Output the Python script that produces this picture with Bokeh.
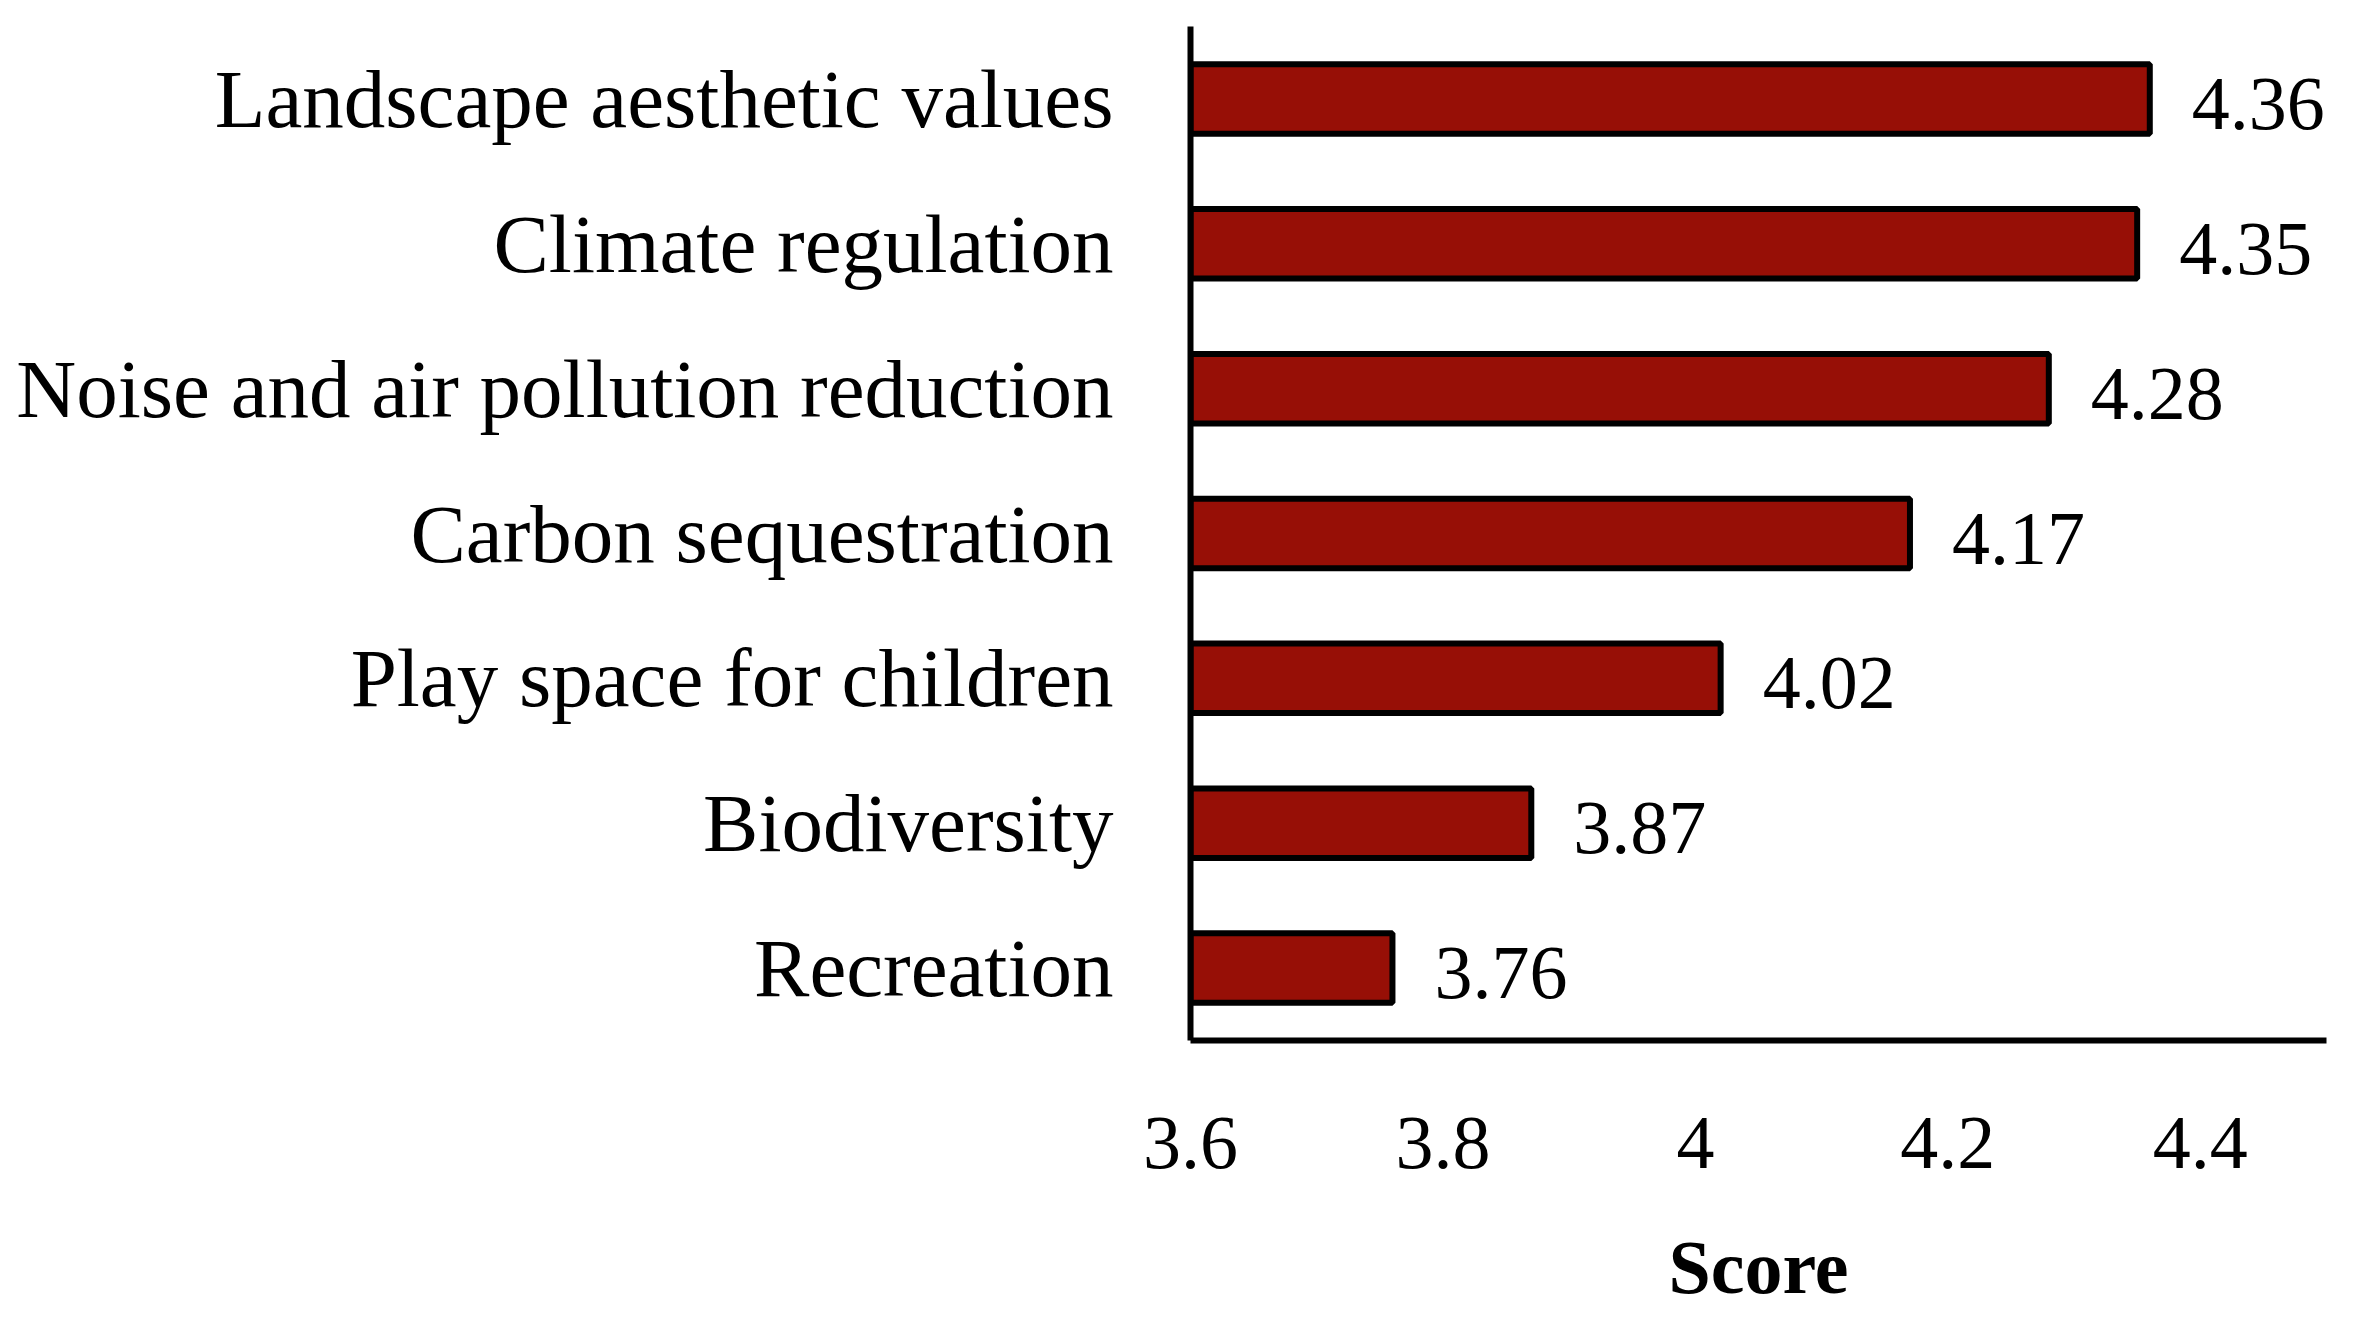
from bokeh.plotting import figure
from bokeh.models import FactorRange, Range1d, FixedTicker, NumeralTickFormatter, ColumnDataSource
from bokeh.embed import file_html
from bokeh.resources import INLINE
from bokeh.core.properties import value

categories = ["Landscape aesthetic values", "Climate regulation", "Noise and air pollution reduction",
              "Carbon sequestration", "Play space for children", "Biodiversity", "Recreation"]
scores = [4.36, 4.35, 4.28, 4.17, 4.02, 3.87, 3.76]
x_ticks = [3.6, 3.8, 4.0, 4.2, 4.4]
x_start, x_end = 3.6, 4.5

FONT = "Liberation Serif"
FS = "76px"
FS_CAT = "83px"

src = ColumnDataSource(dict(cat=categories, score=scores,
                            label=[f"{v:.2f}" for v in scores],
                            base=[x_start] * len(scores)))

p = figure(width=2358, height=1311, output_backend="svg", toolbar_location=None,
           y_range=FactorRange(factors=categories[::-1]),
           x_range=Range1d(x_start, x_end),
           min_border_left=1190, min_border_right=32, min_border_top=26, min_border_bottom=257)

p.hbar(y="cat", left="base", right="score", height=0.48, source=src,
       fill_color="#970F06", line_color="black", line_width=6)
p.text(x="score", y="cat", text="label", source=src, x_offset=42, y_offset=5,
       text_baseline="middle", text_align="left",
       text_font=value(FONT), text_font_size=FS, text_color="black")

p.xgrid.visible = False
p.ygrid.visible = False
p.outline_line_color = None
p.background_fill_color = "white"
p.border_fill_color = "white"

xa = p.xaxis[0]
xa.ticker = FixedTicker(ticks=x_ticks)
xa.formatter = NumeralTickFormatter(format="0.[0]")
xa.axis_line_width = 6
xa.axis_line_color = "black"
xa.major_tick_line_color = None
xa.minor_tick_line_color = None
xa.major_tick_out = 0
xa.major_tick_in = 0
xa.major_label_standoff = 77
xa.major_label_text_font = FONT
xa.major_label_text_font_size = FS
xa.major_label_text_color = "black"
xa.axis_label = "Score"
xa.axis_label_text_font = FONT
xa.axis_label_text_font_size = FS
xa.axis_label_text_font_style = "bold"
xa.axis_label_text_color = "black"
xa.axis_label_standoff = 54

ya = p.yaxis[0]
ya.axis_line_width = 6
ya.axis_line_color = "black"
ya.major_tick_line_color = None
ya.minor_tick_line_color = None
ya.major_tick_out = 0
ya.major_tick_in = 0
ya.major_label_standoff = 77
ya.major_label_text_font = FONT
ya.major_label_text_font_size = FS_CAT
ya.major_label_text_color = "black"

open("out.html", "w").write(file_html(p, INLINE))
